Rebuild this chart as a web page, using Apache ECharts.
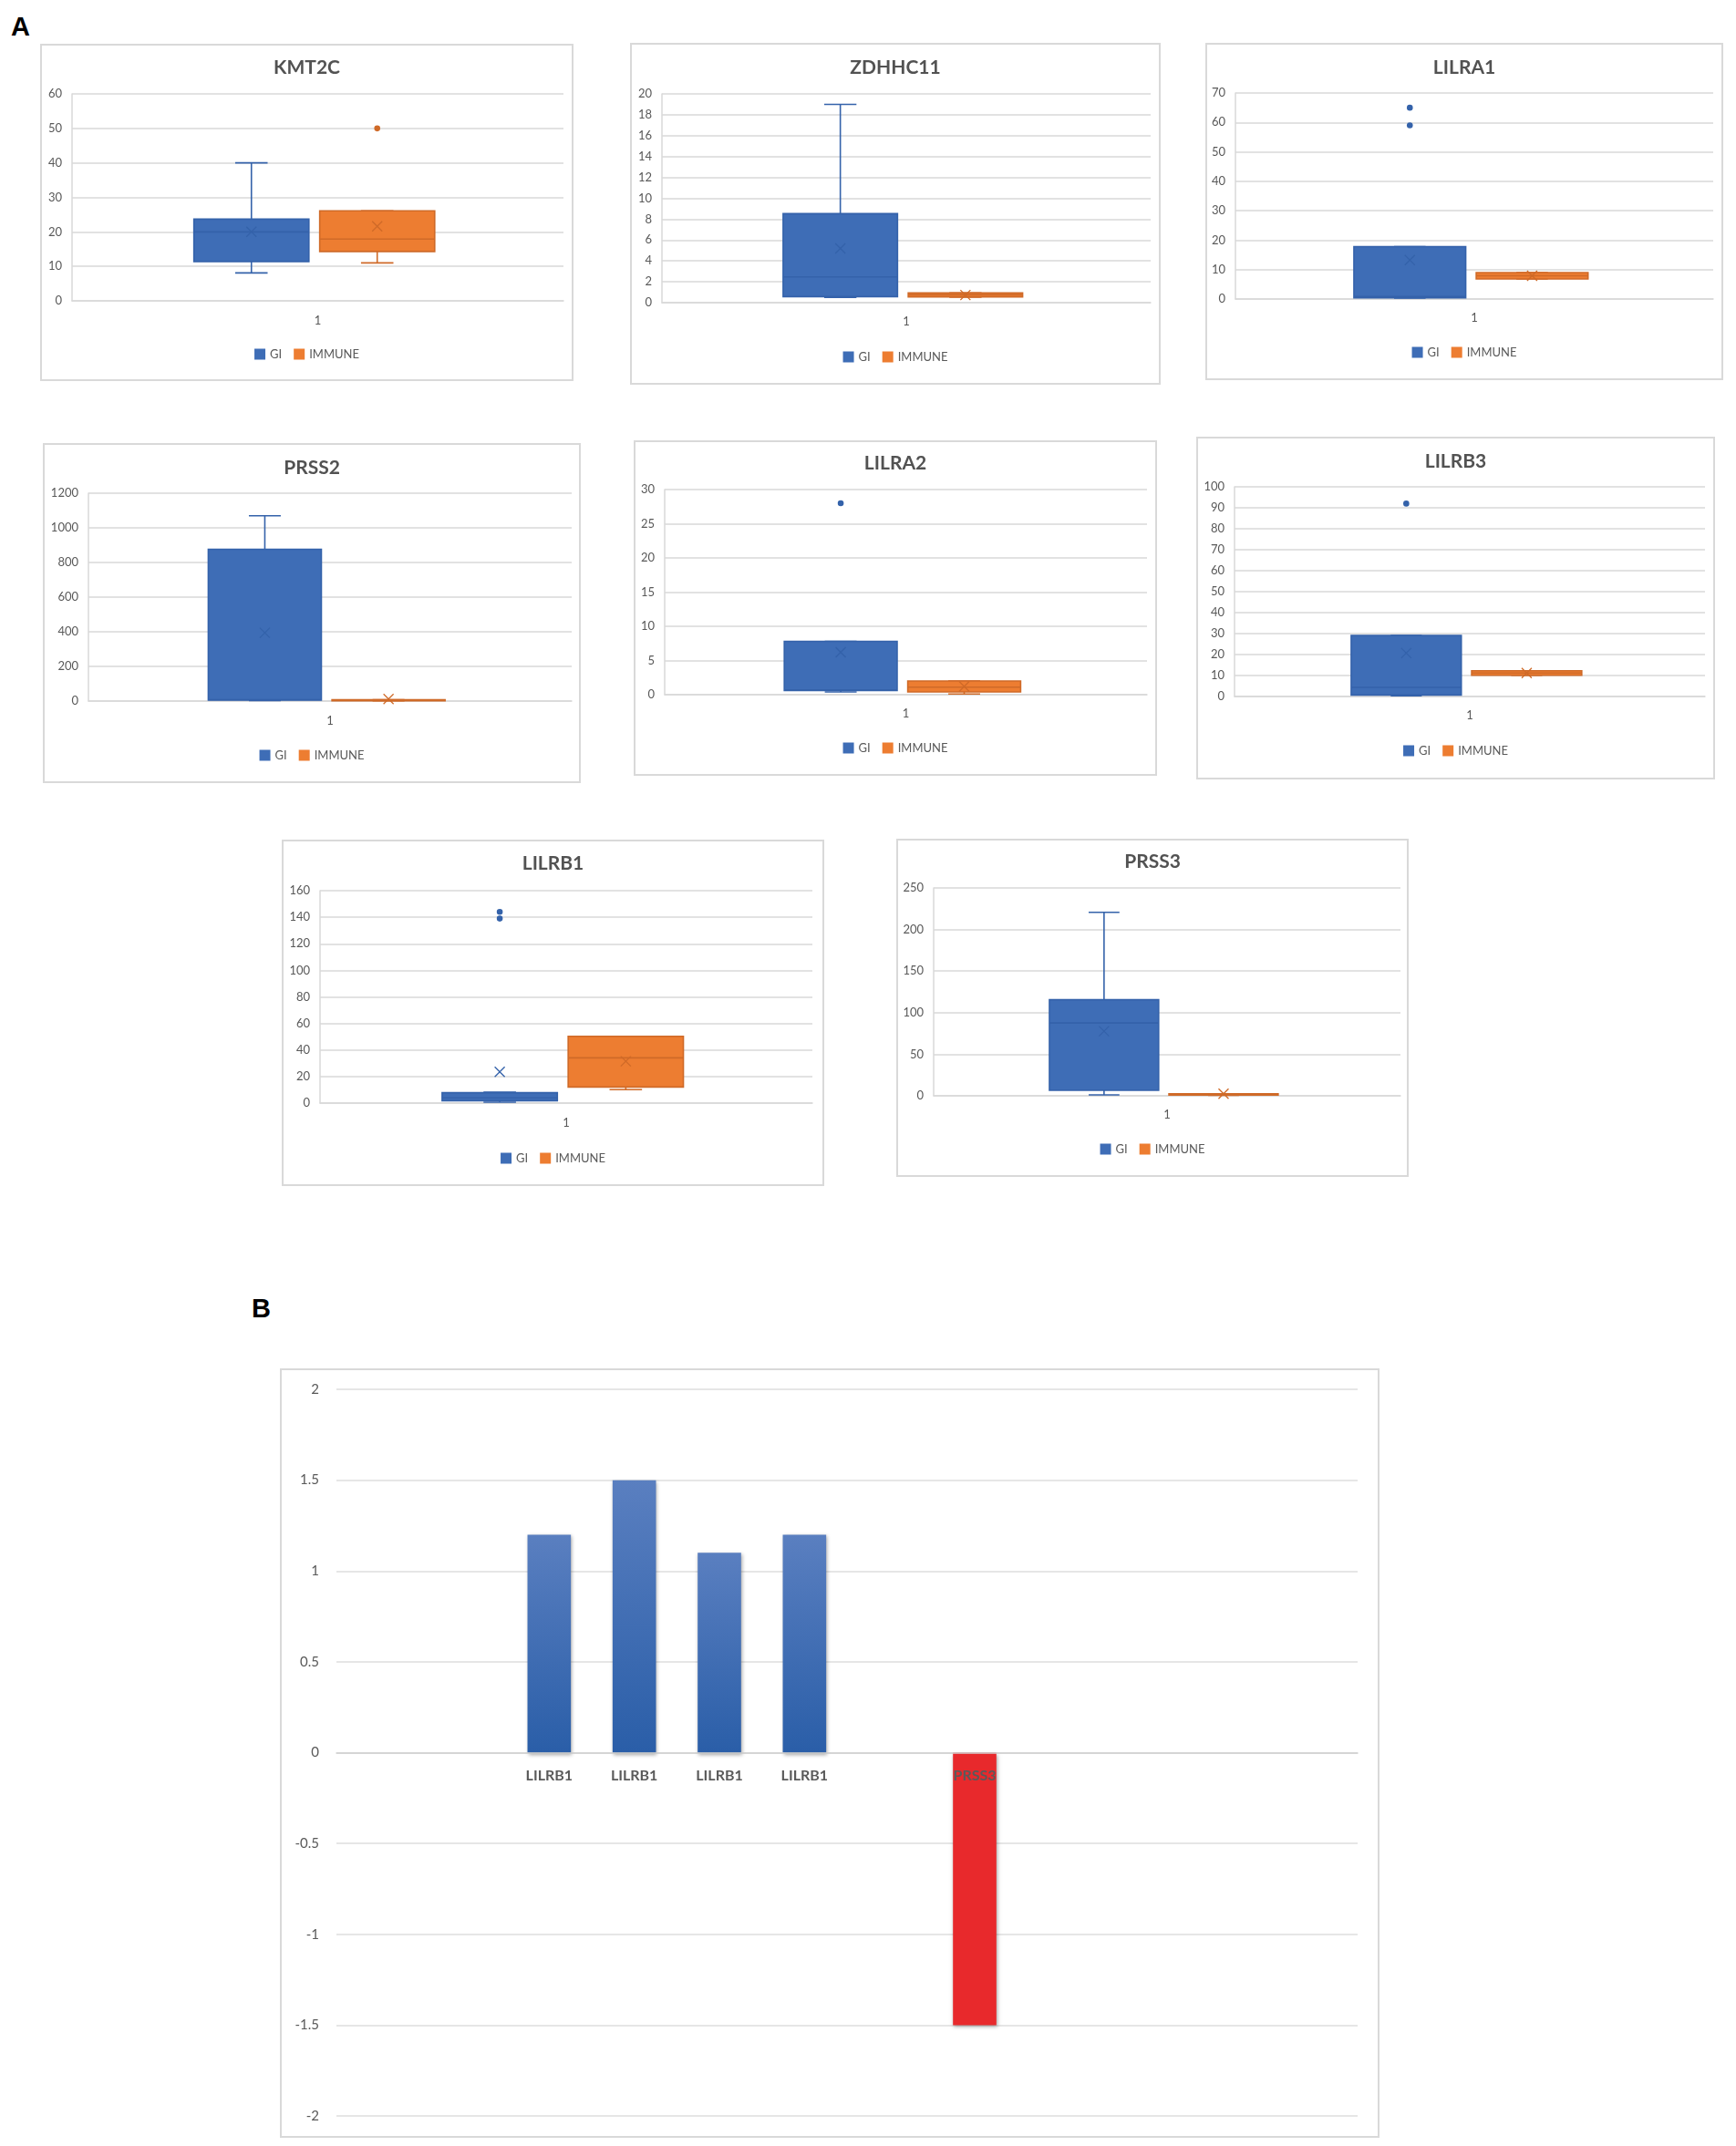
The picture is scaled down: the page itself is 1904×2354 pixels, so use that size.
<!DOCTYPE html>
<html><head><meta charset="utf-8">
<script src="https://cdn.jsdelivr.net/npm/echarts@6/dist/echarts.min.js"></script>
<style>
html,body{margin:0;padding:0;background:#fff;width:1904px;height:2354px;position:relative;overflow:hidden;}
.panel{position:absolute;box-sizing:border-box;border:2px solid #d9d9d9;background:#fff;}
.chart{position:absolute;left:0;top:0;right:0;bottom:0;}
.tag{position:absolute;font:bold 29px 'Liberation Sans', Arial, sans-serif;color:#000;line-height:1;}
</style></head><body>
<div class="tag" style="left:12px;top:15px">A</div>
<div class="tag" style="left:276px;top:1421px">B</div>
<script>
// ---------------- DATA ----------------
const panelTitles = ['KMT2C', 'ZDHHC11', 'LILRA1', 'PRSS2', 'LILRA2', 'LILRB3', 'LILRB1', 'PRSS3'];
const seriesNames = ['GI', 'IMMUNE'];
const categoryLabels = ['1'];
// [min, Q1, median, Q3, max]
const giBoxes = [
  [8.1, 11.4, 20, 23.7, 40],
  [0.5, 0.58, 2.47, 8.53, 19.0],
  [0.3, 0.4, 0.8, 17.8, 17.8],
  [3, 5, 8, 876, 1070],
  [0.4, 0.62, 0.7, 7.8, 7.8],
  [0.4, 0.7, 4.35, 29.1, 29.1],
  [0.7, 1.8, 4, 7.8, 8.2],
  [1.1, 6.6, 87.6, 115.5, 220.7]
];
const giMeans = [20, 5.2, 13.25, 394, 6.2, 20.7, 23.5, 77.7];
const giOutliers = [[], [], [65, 59], [], [28], [92], [144, 139], []];
const immuneBoxes = [
  [11.0, 14.3, 17.9, 26.1, 26.1],
  [0.52, 0.55, 0.75, 0.93, 0.93],
  [6.8, 6.8, 7.9, 9.0, 9.0],
  [1, 2, 4, 8, 8],
  [0.1, 0.4, 1.1, 2.0, 2.0],
  [10.1, 10.1, 11.2, 12.3, 12.3],
  [10.1, 12.1, 34.1, 50.3, 50.3],
  [0.5, 1, 2, 2.5, 2.5]
];
const immuneMeans = [21.6, 0.73, 7.9, 12, 1.2, 11.2, 31.5, 2.5];
const immuneOutliers = [[50], [], [], [], [], [], [], []];
const yAxisMax = [60, 20, 70, 1200, 30, 100, 160, 250];
const yAxisInterval = [10, 2, 10, 200, 5, 10, 20, 50];

const bCategories = ['', '', 'LILRB1', 'LILRB1', 'LILRB1', 'LILRB1', '', 'PRSS3', '', '', '', ''];
const bValues = [null, null, 1.2, 1.5, 1.1, 1.2, null, -1.5, null, null, null, null];
const bAxisMin = -2, bAxisMax = 2, bAxisInterval = 0.5;

// ---------------- LAYOUT ----------------
const panelBoxes = [
  [44, 48, 585, 370], [691, 47, 582, 375], [1322, 47, 568, 370],
  [47, 486, 590, 373], [695, 483, 574, 368], [1312, 479, 569, 376],
  [309, 921, 595, 380], [983, 920, 562, 371]
];
const plotRects = [
  [79, 103, 618, 330], [726, 103, 1262, 332], [1355, 102, 1879, 328],
  [97, 541, 627, 769], [729, 537, 1258, 762], [1354, 534, 1870, 764],
  [351, 977, 891, 1210], [1024, 974, 1536, 1202]
];
const titleYs = [70, 70, 70, 509, 504, 502, 943, 941];
const catLabelYs = [352, 353, 349, 791, 783, 785, 1232, 1223];
const legendYs = [384, 387, 382, 824, 816, 819, 1266, 1256];

const FONT = "Lato, 'Open Sans', sans-serif";
const GREY = '#595959';
const GI_STYLE = { fill: '#3e6db6', stroke: '#3462aa', offset: -0.135 };
const IM_STYLE = { fill: '#ed7d31', stroke: '#cf6a28', offset: 0.121 };

function boxRenderer(st, nOut) {
  return function (params, api) {
    const bw = api.size([1, 0])[0];
    const x0 = api.value(0);
    const cx = api.coord([x0, 0])[0] + st.offset * bw;
    const y = i => api.coord([x0, api.value(i)])[1];
    const hw = bw * 0.117, cw = bw * 0.033;
    const yMin = y(1), yQ1 = y(2), yMed = y(3), yQ3 = y(4), yMax = y(5), yMean = y(6);
    const ls = { stroke: st.stroke, lineWidth: 1.6, fill: null };
    const m = 5.5;
    const children = [
      { type: 'line', shape: { x1: cx, y1: yQ3, x2: cx, y2: yMax }, style: ls },
      { type: 'line', shape: { x1: cx, y1: yQ1, x2: cx, y2: yMin }, style: ls },
      { type: 'line', shape: { x1: cx - cw, y1: yMax, x2: cx + cw, y2: yMax }, style: ls },
      { type: 'line', shape: { x1: cx - cw, y1: yMin, x2: cx + cw, y2: yMin }, style: ls },
      { type: 'rect', shape: { x: cx - hw, y: yQ3, width: 2 * hw, height: Math.max(1, yQ1 - yQ3) },
        style: { fill: st.fill, stroke: st.stroke, lineWidth: 1.6 } },
      { type: 'line', shape: { x1: cx - hw, y1: yMed, x2: cx + hw, y2: yMed }, style: ls },
      { type: 'line', shape: { x1: cx - m, y1: yMean - m, x2: cx + m, y2: yMean + m }, style: { stroke: st.stroke, lineWidth: 1.3 } },
      { type: 'line', shape: { x1: cx - m, y1: yMean + m, x2: cx + m, y2: yMean - m }, style: { stroke: st.stroke, lineWidth: 1.3 } }
    ];
    for (let k = 0; k < nOut; k++) {
      children.push({ type: 'circle', shape: { cx: cx, cy: y(7 + k), r: 3.3 }, style: { fill: st.stroke } });
    }
    return { type: 'group', children: children };
  };
}

panelTitles.forEach(function (title, i) {
  const pb = panelBoxes[i], pr = plotRects[i];
  const panel = document.createElement('div');
  panel.className = 'panel';
  panel.style.left = pb[0] + 'px'; panel.style.top = pb[1] + 'px';
  panel.style.width = pb[2] + 'px'; panel.style.height = pb[3] + 'px';
  const inner = document.createElement('div');
  inner.className = 'chart';
  panel.appendChild(inner);
  document.body.appendChild(panel);
  const ox = pb[0] + 2, oy = pb[1] + 2, iw = pb[2] - 4, ih = pb[3] - 4;
  const chart = echarts.init(inner, null, { renderer: 'canvas' });
  const giRow = [0].concat(giBoxes[i], [giMeans[i]], giOutliers[i]);
  const imRow = [0].concat(immuneBoxes[i], [immuneMeans[i]], immuneOutliers[i]);
  chart.setOption({
    animation: false,
    title: {
      text: title, left: 'center', top: titleYs[i] - oy - 11,
      textStyle: { fontFamily: FONT, fontSize: 21, fontWeight: 'bold', color: '#525252' }
    },
    legend: {
      data: seriesNames, icon: 'rect', itemWidth: 12, itemHeight: 12, itemGap: 13,
      left: 'center', top: legendYs[i] - oy - 7,
      textStyle: { fontFamily: FONT, fontSize: 13, color: GREY }
    },
    grid: {
      left: pr[0] - ox, top: pr[1] - oy, right: ox + iw - pr[2], bottom: oy + ih - pr[3],
      outerBoundsMode: 'none'
    },
    xAxis: {
      type: 'category', data: categoryLabels, boundaryGap: true,
      axisLine: { show: true, lineStyle: { color: '#d9d9d9', width: 1.5 } },
      axisTick: { show: false },
      axisLabel: { fontFamily: FONT, fontSize: 13, color: GREY, margin: catLabelYs[i] - pr[3] - 7 },
      splitLine: { show: false }
    },
    yAxis: {
      type: 'value', min: 0, max: yAxisMax[i], interval: yAxisInterval[i],
      axisLine: { show: true, lineStyle: { color: '#d9d9d9', width: 1.5 } },
      axisTick: { show: false },
      axisLabel: { fontFamily: FONT, fontSize: 13, color: GREY, margin: 11, formatter: v => String(v) },
      splitLine: { lineStyle: { color: '#d9d9d9', width: 1.5 } }
    },
    series: [
      { name: seriesNames[0], type: 'custom', itemStyle: { color: GI_STYLE.fill },
        renderItem: boxRenderer(GI_STYLE, giOutliers[i].length), data: [giRow], z: 3 },
      { name: seriesNames[1], type: 'custom', itemStyle: { color: IM_STYLE.fill },
        renderItem: boxRenderer(IM_STYLE, immuneOutliers[i].length), data: [imRow], z: 3 }
    ]
  });
});

// ---------------- PANEL B ----------------
(function () {
  const pb = [307, 1501, 1206, 844], pr = [369, 1524, 1489, 2321];
  const panel = document.createElement('div');
  panel.className = 'panel';
  panel.style.left = pb[0] + 'px'; panel.style.top = pb[1] + 'px';
  panel.style.width = pb[2] + 'px'; panel.style.height = pb[3] + 'px';
  const inner = document.createElement('div');
  inner.className = 'chart';
  panel.appendChild(inner);
  document.body.appendChild(panel);
  const ox = pb[0] + 2, oy = pb[1] + 2, iw = pb[2] - 4, ih = pb[3] - 4;
  const chart = echarts.init(inner, null, { renderer: 'canvas' });
  const blueGrad = new echarts.graphic.LinearGradient(0, 0, 0, 1, [
    { offset: 0, color: '#5a7fc0' }, { offset: 1, color: '#2a5ea8' }
  ]);
  // place the category axis on the zero line of the value axis
  const zeroOffset = -(pr[3] - pr[1]) * (0 - bAxisMin) / (bAxisMax - bAxisMin);
  chart.setOption({
    animation: false,
    grid: {
      left: pr[0] - ox, top: pr[1] - oy, right: ox + iw - pr[2], bottom: oy + ih - pr[3],
      outerBoundsMode: 'none'
    },
    xAxis: {
      type: 'category', data: bCategories, z: 5, position: 'bottom', offset: zeroOffset,
      axisLine: { show: true, onZero: false, lineStyle: { color: '#cfcfcf', width: 1.5 } },
      axisTick: { show: false },
      axisLabel: { interval: 0, fontFamily: FONT, fontSize: 16, fontWeight: 'bold', color: '#5a5a5a', margin: 17 },
      splitLine: { show: false }
    },
    yAxis: {
      type: 'value', min: bAxisMin, max: bAxisMax, interval: bAxisInterval,
      axisLine: { show: false }, axisTick: { show: false },
      axisLabel: { fontFamily: FONT, fontSize: 15, color: GREY, margin: 19 },
      splitLine: { lineStyle: { color: '#dedede', width: 1.5 } }
    },
    series: [{
      type: 'bar', data: bValues, barWidth: '51%',
      itemStyle: {
        color: function (p) { return p.value >= 0 ? blueGrad : '#e8292c'; },
        shadowBlur: 4, shadowColor: 'rgba(0,0,0,0.35)', shadowOffsetX: 1, shadowOffsetY: 2
      }
    }]
  });
})();
</script>
</body></html>
